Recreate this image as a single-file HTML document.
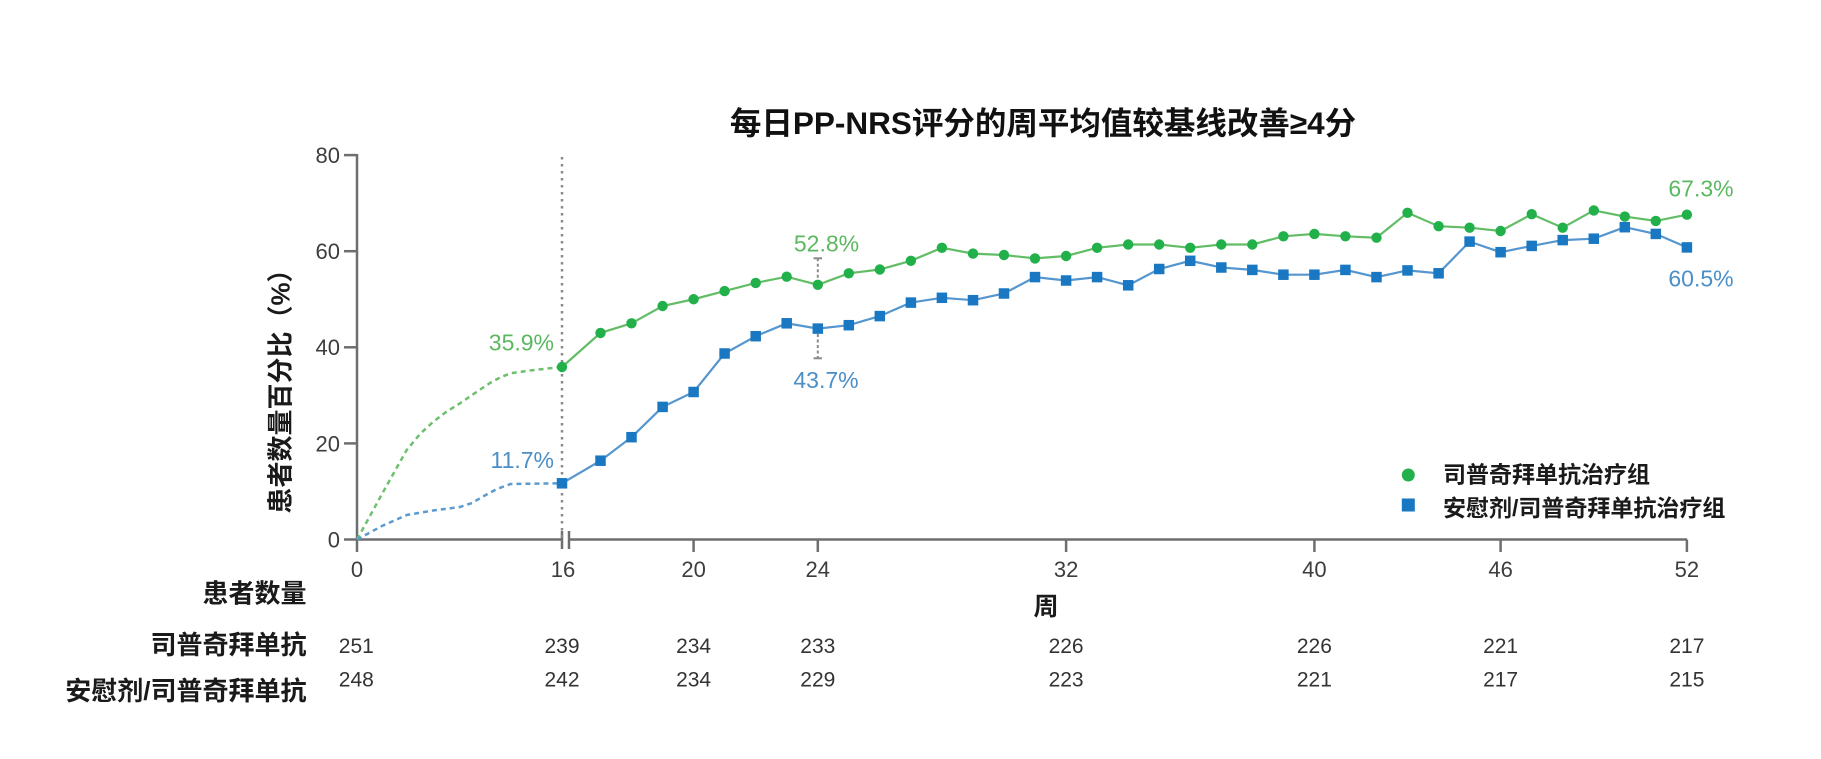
<!DOCTYPE html>
<html>
<head>
<meta charset="utf-8">
<style>
html,body{margin:0;padding:0;background:#fff;}
svg{display:block;}
text{font-family:"Liberation Sans","Noto Sans CJK SC",sans-serif;}
.b{font-weight:bold;}
</style>
</head>
<body>
<svg width="1821" height="759" viewBox="0 0 1821 759" xmlns="http://www.w3.org/2000/svg">
<rect width="1821" height="759" fill="#fff"/>

<!-- Title -->
<text x="1043" y="134" text-anchor="middle" font-size="31.5" class="b" fill="#111">每日PP-NRS评分的周平均值较基线改善≥4分</text>

<!-- Y axis label -->
<text transform="translate(289.5,385) rotate(-90)" text-anchor="middle" font-size="26" class="b" fill="#1a1a1a">患者数量百分比（%）</text>

<!-- Axes -->
<g stroke="#6e6e6e" stroke-width="2.5" fill="none">
  <line x1="357" y1="154" x2="357" y2="552"/>
  <line x1="344" y1="539.5" x2="562" y2="539.5"/>
  <line x1="569" y1="539.5" x2="1687" y2="539.5"/>
  <line x1="344" y1="443.4" x2="357" y2="443.4"/>
  <line x1="344" y1="347.3" x2="357" y2="347.3"/>
  <line x1="344" y1="251.2" x2="357" y2="251.2"/>
  <line x1="344" y1="155.1" x2="357" y2="155.1"/>
  <line x1="693.6" y1="539.5" x2="693.6" y2="552"/>
  <line x1="817.8" y1="539.5" x2="817.8" y2="552"/>
  <line x1="1066.1" y1="539.5" x2="1066.1" y2="552"/>
  <line x1="1314.4" y1="539.5" x2="1314.4" y2="552"/>
  <line x1="1500.6" y1="539.5" x2="1500.6" y2="552"/>
  <line x1="1686.9" y1="539.5" x2="1686.9" y2="552"/>
  <line x1="562" y1="531" x2="562" y2="549"/>
  <line x1="569" y1="531" x2="569" y2="549"/>
</g>

<!-- Y tick labels -->
<g font-size="22" fill="#3d3d3d" text-anchor="end">
  <text x="340" y="547.4">0</text>
  <text x="340" y="451.3">20</text>
  <text x="340" y="355.2">40</text>
  <text x="340" y="259.1">60</text>
  <text x="340" y="163">80</text>
</g>

<!-- X tick labels -->
<g font-size="22" fill="#3d3d3d" text-anchor="middle">
  <text x="357" y="577">0</text>
  <text x="563" y="577">16</text>
  <text x="693.6" y="577">20</text>
  <text x="817.8" y="577">24</text>
  <text x="1066.1" y="577">32</text>
  <text x="1314.4" y="577">40</text>
  <text x="1500.6" y="577">46</text>
  <text x="1686.9" y="577">52</text>
</g>

<!-- X axis title -->
<text x="1046" y="615" text-anchor="middle" font-size="25" class="b" fill="#1a1a1a">周</text>

<!-- Dotted vertical line at week 16 -->
<line x1="562" y1="157" x2="562" y2="539" stroke="#8a8a8a" stroke-width="2.5" stroke-dasharray="2.5 4.5"/>

<!-- Dashed early segments -->
<polyline fill="none" stroke="#6cc06e" stroke-width="2.5" stroke-dasharray="5 4"
  points="357,539.5 382,494 406.7,450 420,434 433,422 446,412 460,403.3 475,393 490,383 500,377.5 510.5,373.3 530,370.5 561,367"/>
<polyline fill="none" stroke="#5b9bd0" stroke-width="2.5" stroke-dasharray="5 4"
  points="357,539.5 382,526 406.7,515 433,510.5 460,507 472,503 483,496.5 497,489 510.5,484 561,483.3"/>

<!-- Error bars -->
<g stroke="#8a8a8a" stroke-width="2" fill="none">
  <line x1="817.8" y1="258.3" x2="817.8" y2="280" stroke-dasharray="3 2.5"/>
  <line x1="813.5" y1="258.3" x2="822" y2="258.3"/>
  <line x1="817.8" y1="334" x2="817.8" y2="358.3" stroke-dasharray="3 2.5"/>
  <line x1="813.5" y1="358.3" x2="822" y2="358.3"/>
</g>

<!-- Green solid line -->
<polyline fill="none" stroke="#62bd66" stroke-width="2.2" points="562,367 600.5,332.9 631.5,323.3 662.6,306 693.6,299.25 724.6,291.1 755.7,282.9 786.7,276.7 817.8,284.8 848.8,273.3 879.8,269.5 910.9,260.8 941.9,247.8 973,253.6 1004,255 1035,258.4 1066.1,256 1097.1,247.8 1128.2,244.5 1159.2,244.5 1190.2,247.8 1221.3,244.5 1252.3,244.5 1283.4,236.3 1314.4,233.9 1345.4,236.3 1376.5,237.7 1407.5,212.8 1438.6,226.2 1469.6,227.7 1500.6,231 1531.7,214.2 1562.7,227.7 1593.8,210.4 1624.8,216.6 1655.8,220.9 1686.9,214.7"/>

<!-- Blue solid line -->
<polyline fill="none" stroke="#5596cf" stroke-width="2.2" points="562,483.3 600.5,460.7 631.5,437.2 662.6,406.9 693.6,392 724.6,353.5 755.7,336.2 786.7,323.3 817.8,328.6 848.8,325.2 879.8,316.1 910.9,302.6 941.9,297.8 973,300.2 1004,293.5 1035,277.1 1066.1,280.5 1097.1,277.1 1128.2,285.3 1159.2,269 1190.2,260.8 1221.3,267.5 1252.3,269.9 1283.4,274.7 1314.4,274.7 1345.4,269.9 1376.5,277.1 1407.5,270.4 1438.6,273.3 1469.6,241.6 1500.6,252.2 1531.7,245.9 1562.7,240.1 1593.8,238.7 1624.8,227.2 1655.8,233.9 1686.9,247.4"/>

<!-- Green markers -->
<g fill="#22b04a">
  <circle cx="562" cy="367" r="5.2"/>
  <circle cx="600.5" cy="332.9" r="5.2"/>
  <circle cx="631.5" cy="323.3" r="5.2"/>
  <circle cx="662.6" cy="306" r="5.2"/>
  <circle cx="693.6" cy="299.25" r="5.2"/>
  <circle cx="724.6" cy="291.1" r="5.2"/>
  <circle cx="755.7" cy="282.9" r="5.2"/>
  <circle cx="786.7" cy="276.7" r="5.2"/>
  <circle cx="817.8" cy="284.8" r="5.2"/>
  <circle cx="848.8" cy="273.3" r="5.2"/>
  <circle cx="879.8" cy="269.5" r="5.2"/>
  <circle cx="910.9" cy="260.8" r="5.2"/>
  <circle cx="941.9" cy="247.8" r="5.2"/>
  <circle cx="973" cy="253.6" r="5.2"/>
  <circle cx="1004" cy="255" r="5.2"/>
  <circle cx="1035" cy="258.4" r="5.2"/>
  <circle cx="1066.1" cy="256" r="5.2"/>
  <circle cx="1097.1" cy="247.8" r="5.2"/>
  <circle cx="1128.2" cy="244.5" r="5.2"/>
  <circle cx="1159.2" cy="244.5" r="5.2"/>
  <circle cx="1190.2" cy="247.8" r="5.2"/>
  <circle cx="1221.3" cy="244.5" r="5.2"/>
  <circle cx="1252.3" cy="244.5" r="5.2"/>
  <circle cx="1283.4" cy="236.3" r="5.2"/>
  <circle cx="1314.4" cy="233.9" r="5.2"/>
  <circle cx="1345.4" cy="236.3" r="5.2"/>
  <circle cx="1376.5" cy="237.7" r="5.2"/>
  <circle cx="1407.5" cy="212.8" r="5.2"/>
  <circle cx="1438.6" cy="226.2" r="5.2"/>
  <circle cx="1469.6" cy="227.7" r="5.2"/>
  <circle cx="1500.6" cy="231" r="5.2"/>
  <circle cx="1531.7" cy="214.2" r="5.2"/>
  <circle cx="1562.7" cy="227.7" r="5.2"/>
  <circle cx="1593.8" cy="210.4" r="5.2"/>
  <circle cx="1624.8" cy="216.6" r="5.2"/>
  <circle cx="1655.8" cy="220.9" r="5.2"/>
  <circle cx="1686.9" cy="214.7" r="5.2"/>
</g>

<!-- Blue markers -->
<g fill="#1a78c2">
  <rect x="556.75" y="478.05" width="10.5" height="10.5"/>
  <rect x="595.25" y="455.45" width="10.5" height="10.5"/>
  <rect x="626.25" y="431.95" width="10.5" height="10.5"/>
  <rect x="657.35" y="401.65" width="10.5" height="10.5"/>
  <rect x="688.35" y="386.75" width="10.5" height="10.5"/>
  <rect x="719.35" y="348.25" width="10.5" height="10.5"/>
  <rect x="750.45" y="330.95" width="10.5" height="10.5"/>
  <rect x="781.45" y="318.05" width="10.5" height="10.5"/>
  <rect x="812.55" y="323.35" width="10.5" height="10.5"/>
  <rect x="843.55" y="319.95" width="10.5" height="10.5"/>
  <rect x="874.55" y="310.85" width="10.5" height="10.5"/>
  <rect x="905.65" y="297.35" width="10.5" height="10.5"/>
  <rect x="936.65" y="292.55" width="10.5" height="10.5"/>
  <rect x="967.75" y="294.95" width="10.5" height="10.5"/>
  <rect x="998.75" y="288.25" width="10.5" height="10.5"/>
  <rect x="1029.75" y="271.85" width="10.5" height="10.5"/>
  <rect x="1060.85" y="275.25" width="10.5" height="10.5"/>
  <rect x="1091.85" y="271.85" width="10.5" height="10.5"/>
  <rect x="1122.95" y="280.05" width="10.5" height="10.5"/>
  <rect x="1153.95" y="263.75" width="10.5" height="10.5"/>
  <rect x="1184.95" y="255.55" width="10.5" height="10.5"/>
  <rect x="1216.05" y="262.25" width="10.5" height="10.5"/>
  <rect x="1247.05" y="264.65" width="10.5" height="10.5"/>
  <rect x="1278.15" y="269.45" width="10.5" height="10.5"/>
  <rect x="1309.15" y="269.45" width="10.5" height="10.5"/>
  <rect x="1340.15" y="264.65" width="10.5" height="10.5"/>
  <rect x="1371.25" y="271.85" width="10.5" height="10.5"/>
  <rect x="1402.25" y="265.15" width="10.5" height="10.5"/>
  <rect x="1433.35" y="268.05" width="10.5" height="10.5"/>
  <rect x="1464.35" y="236.35" width="10.5" height="10.5"/>
  <rect x="1495.35" y="246.95" width="10.5" height="10.5"/>
  <rect x="1526.45" y="240.65" width="10.5" height="10.5"/>
  <rect x="1557.45" y="234.85" width="10.5" height="10.5"/>
  <rect x="1588.55" y="233.45" width="10.5" height="10.5"/>
  <rect x="1619.55" y="221.95" width="10.5" height="10.5"/>
  <rect x="1650.55" y="228.65" width="10.5" height="10.5"/>
  <rect x="1681.65" y="242.15" width="10.5" height="10.5"/>
</g>

<!-- Value labels -->
<g font-size="23">
  <text x="554" y="350.5" text-anchor="end" fill="#5cb860">35.9%</text>
  <text x="554" y="468" text-anchor="end" fill="#4b8fc7">11.7%</text>
  <text x="826.5" y="251.5" text-anchor="middle" fill="#5cb860">52.8%</text>
  <text x="826" y="388" text-anchor="middle" fill="#4b8fc7">43.7%</text>
  <text x="1701" y="196.5" text-anchor="middle" fill="#5cb860">67.3%</text>
  <text x="1701" y="286.5" text-anchor="middle" fill="#4b8fc7">60.5%</text>
</g>

<!-- Legend -->
<circle cx="1408.3" cy="475" r="6.5" fill="#22b04a"/>
<rect x="1401.8" y="498.5" width="13" height="13" fill="#1a78c2"/>
<g font-size="23" class="b" fill="#1a1a1a">
  <text x="1443" y="482.7">司普奇拜单抗治疗组</text>
  <text x="1443" y="516">安慰剂/司普奇拜单抗治疗组</text>
</g>

<!-- Patient count table -->
<g font-size="26" class="b" fill="#1a1a1a" text-anchor="end">
  <text x="306.5" y="602.4">患者数量</text>
  <text x="306.5" y="653.9">司普奇拜单抗</text>
  <text x="306.5" y="699.9">安慰剂/司普奇拜单抗</text>
</g>
<g font-size="21" fill="#333" text-anchor="middle">
  <text x="356.3" y="653">251</text>
  <text x="562" y="653">239</text>
  <text x="693.6" y="653">234</text>
  <text x="817.8" y="653">233</text>
  <text x="1066.1" y="653">226</text>
  <text x="1314.4" y="653">226</text>
  <text x="1500.6" y="653">221</text>
  <text x="1686.9" y="653">217</text>

  <text x="356.3" y="686.5">248</text>
  <text x="562" y="686.5">242</text>
  <text x="693.6" y="686.5">234</text>
  <text x="817.8" y="686.5">229</text>
  <text x="1066.1" y="686.5">223</text>
  <text x="1314.4" y="686.5">221</text>
  <text x="1500.6" y="686.5">217</text>
  <text x="1686.9" y="686.5">215</text>
</g>
</svg>
</body>
</html>
